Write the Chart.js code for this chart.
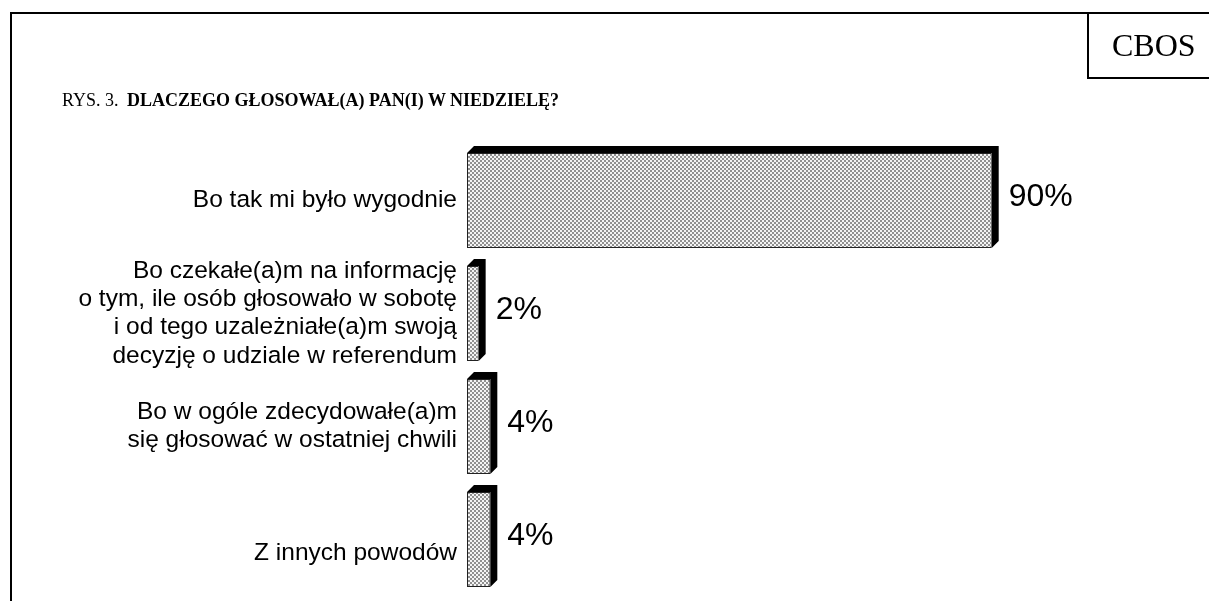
<!DOCTYPE html>
<html>
<head>
<meta charset="utf-8">
<script src="https://cdn.jsdelivr.net/npm/chart.js@4/dist/chart.umd.min.js"></script>
<style>
  body { margin: 0; background: #fff; }
  #page { position: relative; width: 1209px; height: 601px; overflow: hidden; }
  #chart-wrap { position: absolute; left: 0; top: 0; width: 1209px; height: 601px; }
  .frame-top { position: absolute; left: 10px; top: 12px; width: 1199px; height: 2px; background: #000; }
  .frame-left { position: absolute; left: 10px; top: 12px; width: 2px; height: 589px; background: #000; }
  .cbos-box { position: absolute; left: 1087px; top: 12px; width: 122px; height: 67px; border-left: 2px solid #000; border-bottom: 2px solid #000; box-sizing: border-box; }
  .cbos { position: absolute; left: 1112px; top: 27px; font: 32px 'Liberation Serif', 'Times New Roman', serif; color: #000; }
  .title { position: absolute; left: 62px; top: 90px; font: 18px 'Liberation Serif', 'Times New Roman', serif; color: #000; white-space: nowrap; }
  .title b { font-weight: bold; margin-left: 4px; }
</style>
</head>
<body>
<div id="page">
  <div id="chart-wrap"><canvas id="chart"></canvas></div>
  <div class="frame-top"></div>
  <div class="frame-left"></div>
  <div class="cbos-box"></div>
  <div class="cbos">CBOS</div>
  <div class="title">RYS. 3. <b>DLACZEGO GŁOSOWAŁ(A) PAN(I) W NIEDZIELĘ?</b></div>
</div>
<script>
// Answers (multi-line labels as arrays; the last one sits a line lower in the original)
const categories = [
  'Bo tak mi było wygodnie',
  ['Bo czekałe(a)m na informację', 'o tym, ile osób głosowało w sobotę', 'i od tego uzależniałe(a)m swoją', 'decyzję o udziale w referendum'],
  ['Bo w ogóle zdecydowałe(a)m', 'się głosować w ostatniej chwili'],
  ['', 'Z innych powodów'],
];
const values = [90, 2, 4, 4];
const valueLabels = ['90%', '2%', '4%', '4%'];

const DEPTH = 7;
const LABEL_FONT = "'Liberation Sans', Arial, sans-serif";

// fine grey checker fill like the original hatch
function makePattern() {
  const c = document.createElement('canvas');
  c.width = 4; c.height = 4;
  const g = c.getContext('2d');
  g.fillStyle = '#f4f4f4';
  g.fillRect(0, 0, 4, 4);
  g.fillStyle = '#909090';
  g.fillRect(0, 0, 2, 2);
  g.fillRect(2, 2, 2, 2);
  return g.createPattern(c, 'repeat');
}

// black top + right faces for the 3-D look, then the value text
const bar3d = {
  id: 'bar3d',
  afterDatasetsDraw(chart) {
    const ctx = chart.ctx;
    const meta = chart.getDatasetMeta(0);
    ctx.save();
    meta.data.forEach((bar, i) => {
      const top = bar.y - bar.height / 2;
      const bottom = bar.y + bar.height / 2;
      const left = bar.base;
      const right = bar.x;
      ctx.fillStyle = '#000';
      ctx.beginPath();
      ctx.moveTo(left, top);
      ctx.lineTo(left + DEPTH, top - DEPTH);
      ctx.lineTo(right + DEPTH, top - DEPTH);
      ctx.lineTo(right + DEPTH, bottom - DEPTH);
      ctx.lineTo(right, bottom);
      ctx.lineTo(right, top);
      ctx.closePath();
      ctx.fill();

      ctx.fillStyle = '#000';
      ctx.font = `32px ${LABEL_FONT}`;
      ctx.textAlign = 'left';
      ctx.textBaseline = 'middle';
      ctx.fillText(valueLabels[i], right + DEPTH + 10, bar.y - 3);
    });
    ctx.restore();
  },
};

new Chart(document.getElementById('chart'), {
  type: 'bar',
  data: {
    labels: categories,
    datasets: [{
      data: values,
      backgroundColor: makePattern(),
      borderColor: '#222',
      borderWidth: 1,
      borderSkipped: false,
      barPercentage: 1,
      categoryPercentage: 0.84,
    }],
  },
  options: {
    indexAxis: 'y',
    responsive: true,
    maintainAspectRatio: false,
    animation: false,
    layout: { padding: { left: 0, top: 144, right: 159, bottom: 5 } },
    plugins: { legend: { display: false }, tooltip: { enabled: false } },
    scales: {
      x: { display: false, min: 0, max: 100 },
      y: {
        grid: { display: false, drawTicks: false },
        border: { display: false },
        ticks: {
          color: '#000',
          padding: 10,
          autoSkip: false,
          font: { family: LABEL_FONT, size: 24.5, lineHeight: 1.16 },
        },
        afterFit(scale) {
          scale.width = 467;
          scale.paddingTop = 0;
          scale.paddingBottom = 0;
        },
      },
    },
  },
  plugins: [bar3d],
});
</script>
</body>
</html>
